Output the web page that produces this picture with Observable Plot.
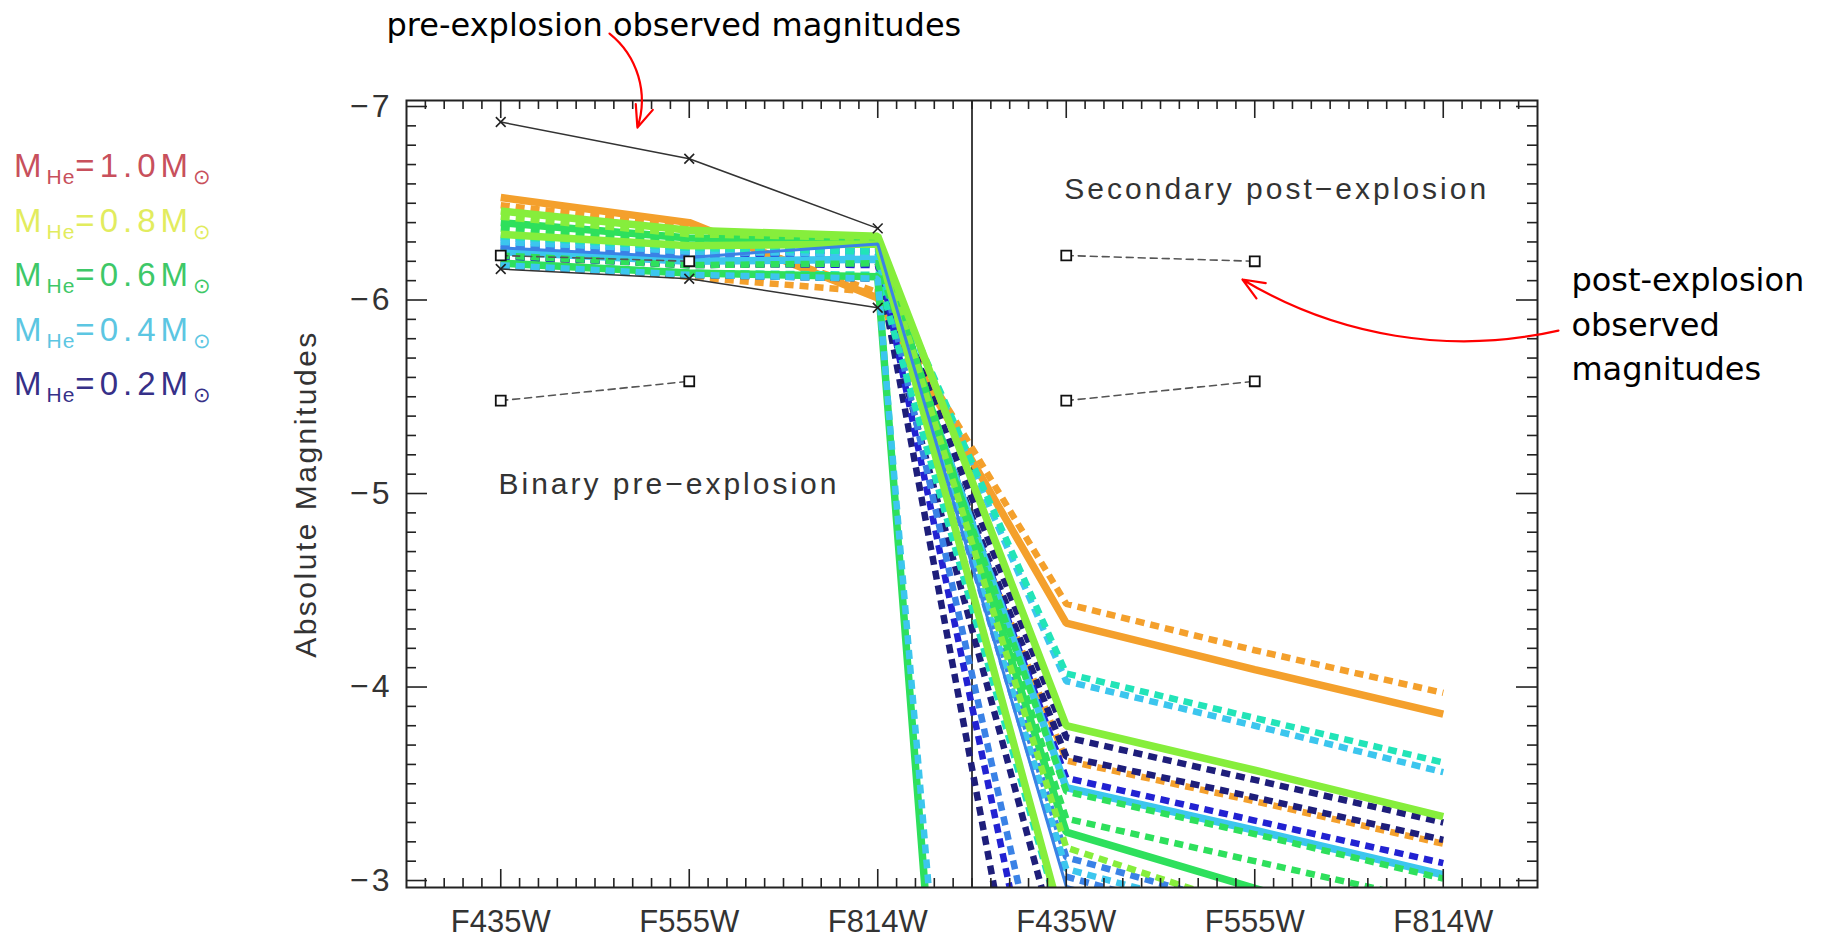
<!DOCTYPE html>
<html>
<head>
<meta charset="utf-8">
<script src="https://cdn.jsdelivr.net/npm/d3@7"></script>
<script src="https://cdn.jsdelivr.net/npm/@observablehq/plot@0.6"></script>
<style>
  html, body { margin: 0; padding: 0; background: #fff; }
  #wrap { position: relative; width: 1825px; height: 939px; overflow: hidden; }
  #legend { position: absolute; left: 14px; top: 139px; font-family: "Liberation Sans", Arial, sans-serif;
            font-size: 33px; letter-spacing: 5px; line-height: 54.5px; white-space: nowrap; }
  #legend sub { font-size: 21px; vertical-align: -7px; letter-spacing: 1px; line-height: 0; }
</style>
</head>
<body>
<div id="wrap"><div id="chart"></div><div id="legend"></div></div>
<script>
// ---------- tick labels / categories ----------
const filterLabels = ["F435W", "F555W", "F814W", "F435W", "F555W", "F814W"];
const yTickValues = [-7, -6, -5, -4, -3];

// ---------- model tracks (one entry per track) ----------
const trackMass = [0.9, 0.9, 0.9, 0.2, 0.2, 0.2, 0.2, 0.25, 0.25, 0.3, 0.3, 0.3, 0.4, 0.4, 0.4, 0.5, 0.5, 0.6, 0.6, 0.6, 0.6, 0.4, 0.7, 0.7, 0.7, 0.3];
const trackKind = ["d", "s", "d", "d", "d", "d", "d", "d", "d", "d", "d", "d", "d", "d", "s", "d", "d", "d", "d", "s", "s", "d", "d", "s", "s", "t"];
const preF435W  = [-6.49, -6.53, -6.21, -6.23, -6.18, -6.25, -6.19, -6.26, -6.22, -6.29, -6.28, -6.32, -6.30, -6.31, -6.25, -6.33, -6.19, -6.23, -6.37, -6.40, -6.19, -6.18, -6.43, -6.34, -6.46, -6.27];
const preF555W  = [-6.38, -6.40, -6.12, -6.18, -6.13, -6.20, -6.14, -6.21, -6.19, -6.23, -6.24, -6.27, -6.26, -6.25, -6.20, -6.27, -6.14, -6.18, -6.30, -6.32, -6.14, -6.13, -6.34, -6.28, -6.36, -6.22];
const preF814W  = [-6.04, -6.01, -6.04, -6.19, -6.11, -6.21, -6.12, -6.24, -6.18, -6.27, -6.26, -6.28, -6.28, -6.24, -6.21, -6.25, -6.13, -6.19, -6.30, -6.31, -6.12, -6.11, -6.32, -6.29, -6.33, -6.29];
const postF435W = [-4.43, -4.33, -3.62, -0.97, -2.49, -3.74, -3.64, -1.56, -3.53, -1.86, -3.12, -3.02, -3.06, -4.03, -3.48, -4.07, -2.69, -3.46, -3.32, -3.25, 6.50, 5.54, -3.17, -2.71, -3.80, -2.97];
const postF555W = [-4.19, -4.09, -3.41, -0.70, -2.20, -3.52, -3.43, -1.30, -3.31, -1.60, -2.85, -2.75, -2.80, -3.80, -3.26, -3.84, -2.42, -3.24, -3.10, -2.96, 6.80, 5.80, -2.85, -2.40, -3.57, -2.72];
const postF814W = [-3.97, -3.86, -3.19, -0.45, -1.95, -3.30, -3.21, -1.05, -3.09, -1.35, -2.58, -2.50, -2.55, -3.56, -3.03, -3.61, -2.15, -3.01, -2.88, -2.66, 7.00, 6.00, -2.55, -2.10, -3.33, -2.47];

const massKeys   = [0.2, 0.25, 0.3, 0.4, 0.5, 0.6, 0.7, 0.9];
const massColors = ["#1e1e7a", "#2222d2", "#3a82e6", "#3cc6ee", "#22e4b8", "#2ee05c", "#86ee3c", "#f4a02c"];

// ---------- observed magnitudes ----------
const obsPreCrossUpper = [-6.92, -6.73, -6.37];   // F435W F555W F814W
const obsPreCrossLower = [-6.16, -6.11, -5.96];
const obsSquareUpper   = [-6.23, -6.20];          // F435W F555W
const obsSquareLower   = [-5.48, -5.58];

// ---------- legend ----------
const legendMasses = ["1.0", "0.8", "0.6", "0.4", "0.2"];
const legendColors = ["#c8505c", "#e2ec5e", "#3ec868", "#5cc6e2", "#363088"];

// ---------- annotations (data coordinates) ----------
const regionLabels = [
  {text: "Binary pre\u2212explosion", x: -0.012, y: -5.047},
  {text: "Secondary post\u2212explosion", x: 2.99, y: -6.573}
];
const noteTop = {text: "pre-explosion observed magnitudes", x: -0.606, y: -7.415};
const noteRight = {text: "post-explosion\nobserved\nmagnitudes", x: 5.68, y: -5.89};
const arrowTop = [{x1: 0.577, y1: -7.377, x2: 0.725, y2: -6.891}];
const arrowRight = [{x1: 5.611, y1: -5.842, x2: 3.935, y2: -6.106}];

// ---------- build tables ----------
const trackCols = [preF435W, preF555W, preF814W, postF435W, postF555W, postF814W];
const tracks = trackMass.map((m, i) => ({
  mass: m, kind: trackKind[i],
  rows: trackCols.map((col, j) => ({pos: j, mag: col[i], mass: m}))
}));
const crossRows = [
  ...obsPreCrossUpper.map((v, j) => ({pos: j, mag: v, s: "u"})),
  ...obsPreCrossLower.map((v, j) => ({pos: j, mag: v, s: "l"}))
];
const squareRows = [];
[0, 3].forEach(off => {
  obsSquareUpper.forEach((v, j) => squareRows.push({pos: off + j, mag: v, s: "u" + off}));
  obsSquareLower.forEach((v, j) => squareRows.push({pos: off + j, mag: v, s: "l" + off}));
});

const xMajor = d3.range(0, 6);
const xMinor = d3.range(-4, 55).filter(k => k % 10 !== 0).map(k => k / 10);
const yMinor = d3.range(-70, -29).filter(k => k % 10 !== 0).map(k => k / 10);
const fmtInt = d => (d < 0 ? "\u2212" : "") + Math.abs(d);

function trackMark(t) {
  const base = {x: "pos", y: "mag", stroke: "mass", clip: true, strokeLinejoin: "miter"};
  if (t.kind === "s") return Plot.line(t.rows, {...base, strokeWidth: 7.5, strokeLinecap: "butt"});
  if (t.kind === "t") return Plot.line(t.rows, {...base, strokeWidth: 3, strokeLinecap: "butt"});
  return Plot.line(t.rows, {...base, strokeWidth: 6.5, strokeDasharray: "9,6", strokeLinecap: "butt"});
}

// frame geometry (pixels)
const W = 1825, H = 939, mL = 406, mR = 288, mT = 100, mB = 52;
const fw = W - mL - mR, fh = H - mT - mB;
const tk = {stroke: "#222", strokeWidth: 1.6};

const chart = Plot.plot({
  width: W, height: H,
  marginLeft: mL, marginRight: mR, marginTop: mT, marginBottom: mB,
  x: {domain: [-0.5, 5.5], axis: null},
  y: {domain: [-2.964, -7.031], axis: null},
  color: {type: "ordinal", domain: massKeys, range: massColors},
  style: {fontFamily: "'Liberation Sans', Arial, sans-serif", fontSize: "30px", color: "#333", background: "transparent", overflow: "visible"},
  marks: [
    Plot.ruleX([2.5], {stroke: "#111", strokeWidth: 1.6}),
    ...tracks.map(trackMark),
    Plot.line(squareRows, {x: "pos", y: "mag", z: "s", stroke: "#555", strokeWidth: 1.6, strokeDasharray: "7,5"}),
    Plot.line(crossRows, {x: "pos", y: "mag", z: "s", stroke: "#333", strokeWidth: 1.5}),
    Plot.dot(crossRows, {x: "pos", y: "mag", symbol: "times", r: 4.5, stroke: "#222", strokeWidth: 1.6}),
    Plot.dot(squareRows, {x: "pos", y: "mag", symbol: "square", r: 5.6, fill: "white", stroke: "#111", strokeWidth: 1.8}),
    // inward ticks on all four sides
    Plot.tickX(xMinor, {x: d => d, insetTop: fh - 9, ...tk}),
    Plot.tickX(xMajor, {x: d => d, insetTop: fh - 18, ...tk}),
    Plot.tickX(xMinor, {x: d => d, insetBottom: fh - 9, ...tk}),
    Plot.tickX(xMajor, {x: d => d, insetBottom: fh - 18, ...tk}),
    Plot.tickY(yMinor, {y: d => d, insetRight: fw - 10, ...tk}),
    Plot.tickY(yTickValues, {y: d => d, insetRight: fw - 21, ...tk}),
    Plot.tickY(yMinor, {y: d => d, insetLeft: fw - 10, ...tk}),
    Plot.tickY(yTickValues, {y: d => d, insetLeft: fw - 21, ...tk}),
    // tick labels
    Plot.axisX(xMajor, {anchor: "bottom", tickSize: 0, tickPadding: 22, tickFormat: i => filterLabels[i], fontSize: 31, label: null, fill: "#333"}),
    Plot.axisY(yTickValues, {anchor: "left", tickSize: 0, tickPadding: 14, tickFormat: fmtInt, fontSize: 32, label: null, fill: "#333"}),
    Plot.text(["Absolute Magnitudes"], {frameAnchor: "left", dx: -100, rotate: -90, textAnchor: "middle", lineAnchor: "middle", fontSize: 30, fill: "#333"}),
    Plot.frame({stroke: "#222", strokeWidth: 2}),
    // region labels
    Plot.text(regionLabels, {x: "x", y: "y", text: "text", textAnchor: "start", lineAnchor: "middle", fontSize: 30, fill: "#333"}),
    // annotations
    Plot.text([noteTop], {x: "x", y: "y", text: "text", textAnchor: "start", lineAnchor: "middle", fontSize: 32, fontFamily: "'DejaVu Sans', sans-serif", fill: "#000"}),
    Plot.text([noteRight], {x: "x", y: "y", text: "text", textAnchor: "start", lineAnchor: "middle", lineHeight: 1.39, fontSize: 32, fontFamily: "'DejaVu Sans', sans-serif", fill: "#000"}),
    Plot.arrow(arrowTop, {x1: "x1", y1: "y1", x2: "x2", y2: "y2", bend: 35, stroke: "#f00", strokeWidth: 2.2, headLength: 16, headAngle: 45}),
    Plot.arrow(arrowRight, {x1: "x1", y1: "y1", x2: "x2", y2: "y2", bend: 22, stroke: "#f00", strokeWidth: 2.2, headLength: 16, headAngle: 45})
  ]
});
document.getElementById("chart").appendChild(chart);

// letter spacing to mimic the wide plotting font
const svg = d3.select(chart);
const spaced = new Map([
  ["Binary pre\u2212explosion", 3], ["Secondary post\u2212explosion", 3], ["Absolute Magnitudes", 2.5]
]);
svg.selectAll("text").each(function () {
  const t = this.textContent;
  if (spaced.has(t)) d3.select(this).attr("letter-spacing", spaced.get(t));
  if (yTickValues.map(fmtInt).includes(t)) d3.select(this).attr("letter-spacing", 3);
});

// legend
const legend = document.getElementById("legend");
legendMasses.forEach((m, i) => {
  const row = document.createElement("div");
  row.style.color = legendColors[i];
  row.innerHTML = `M<sub>He</sub>=${m}M<sub>\u2299</sub>`;
  legend.appendChild(row);
});
</script>
</body>
</html>
